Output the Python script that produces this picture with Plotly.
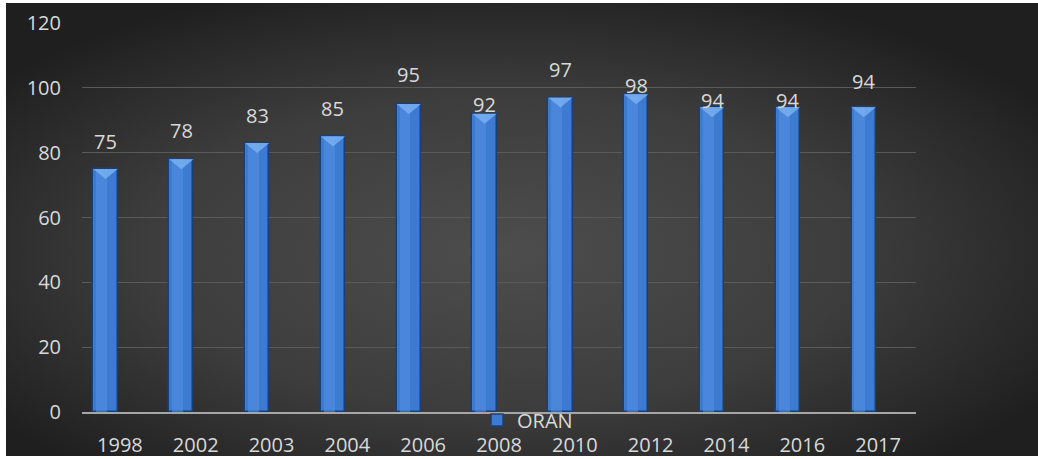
import base64
import plotly.graph_objects as go

# Yearly ORAN values
years = ["1998", "2002", "2003", "2004", "2006", "2008", "2010", "2012", "2014", "2016", "2017"]
oran = [75, 78, 83, 85, 95, 92, 97, 98, 94, 94, 94]
y_ticks = [0, 20, 40, 60, 80, 100, 120]

# Per-label lift (px, bar top -> text baseline); some labels sit on the bar
label_lift = [17, 18, 17, 17, 19, -1, 18, -2, -4, -4, 15]

W, H = 1038, 459
L, R, T, B = 82, 122, 23, 47
plot_w, plot_h = W - L - R, H - T - B
px_per_unit = plot_h / 120

BAR_W = 0.32
BAR_OFF = -0.35
BEVEL_PX = 10
xpos = list(range(len(years)))
bar_left = [x + BAR_OFF for x in xpos]
bar_right = [x + BAR_OFF + BAR_W for x in xpos]
bar_mid = [(a + b) / 2 for a, b in zip(bar_left, bar_right)]

TXT = "#d9d9d9"
FONT = "Open Sans"

# Dark radial gradient card behind the chart
svg = (
    '<svg xmlns="http://www.w3.org/2000/svg" width="1032" height="453">'
    '<defs><radialGradient id="g" cx="48%" cy="55%" r="62%">'
    '<stop offset="0" stop-color="#4d4d4d"/>'
    '<stop offset="0.55" stop-color="#3d3d3d"/>'
    '<stop offset="1" stop-color="#1f1f1f"/>'
    '</radialGradient></defs>'
    '<rect width="1032" height="453" fill="url(#g)"/></svg>'
)
bg_src = "data:image/svg+xml;base64," + base64.b64encode(svg.encode()).decode()

fig = go.Figure()

fig.add_trace(go.Bar(
    x=xpos, y=oran, name="ORAN",
    width=BAR_W, offset=BAR_OFF,
    marker=dict(color="#3c7bd0", line=dict(color="#1c3f73", width=1.5)),
    showlegend=True,
))

# Soft highlight down the left-centre of each column
fig.add_trace(go.Bar(
    x=xpos, y=oran, width=BAR_W * 0.45, offset=BAR_OFF + BAR_W * 0.12,
    marker=dict(color="rgba(85,145,228,0.55)", line=dict(width=0)),
    hoverinfo="skip", showlegend=False,
))

# Bevelled top of each column: a light V-shaped facet under the top edge
bx, by = [], []
for xl, xr, xm, v in zip(bar_left, bar_right, bar_mid, oran):
    bx += [xl, xr, xm, xl, None]
    by += [v, v, v - BEVEL_PX / px_per_unit, v, None]
fig.add_trace(go.Scatter(
    x=bx, y=by, mode="lines", fill="toself",
    fillcolor="rgba(120,175,242,0.85)", line=dict(width=0),
    hoverinfo="skip", showlegend=False,
))

annotations = []
for xm, v, lift in zip(bar_mid, oran, label_lift):
    annotations.append(dict(
        x=xm, y=v, xref="x", yref="y", text=str(v), showarrow=False,
        yanchor="bottom", xanchor="center", yshift=lift - 5,
        font=dict(family=FONT, size=20, color=TXT),
    ))

fig.update_layout(
    width=W, height=H,
    margin=dict(l=L, r=R, t=T, b=B, autoexpand=False),
    paper_bgcolor="white",
    plot_bgcolor="rgba(0,0,0,0)",
    font=dict(family=FONT, size=20, color=TXT),
    barmode="overlay",
    bargap=0,
    annotations=annotations,
    images=[dict(
        source=bg_src, xref="paper", yref="paper",
        x=(6 - L) / plot_w, y=(H - B - 3) / plot_h,
        sizex=(W - 6) / plot_w, sizey=(H - 3 - 3) / plot_h,
        xanchor="left", yanchor="top", sizing="stretch", layer="below",
    )],
    legend=dict(
        orientation="h", x=(477 - L) / plot_w, xanchor="left",
        y=-8 / plot_h, yanchor="middle",
        bgcolor="rgba(0,0,0,0)", font=dict(family=FONT, size=20, color=TXT),
        itemwidth=30,
    ),
    xaxis=dict(
        range=[-0.5, len(years) - 0.5],
        tickvals=xpos, ticktext=years,
        showgrid=False, zeroline=False, automargin=False,
        showline=True, linecolor="#a6a6a6", linewidth=2,
        ticks="", ticklabelstandoff=14,
        tickfont=dict(family=FONT, size=20, color=TXT),
    ),
    yaxis=dict(
        range=[0, 120], tickvals=y_ticks, automargin=False,
        showgrid=True, gridcolor="#5a5a5a", gridwidth=1,
        zeroline=False, showline=False,
        ticks="", ticklabelstandoff=20,
        tickfont=dict(family=FONT, size=20, color=TXT),
    ),
)

fig.write_html("out.html")
